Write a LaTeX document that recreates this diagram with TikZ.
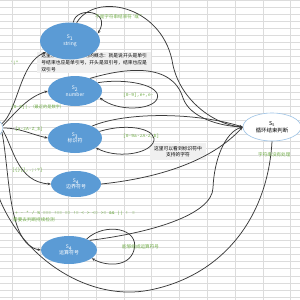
\documentclass[tikz,border=0pt]{standalone}
\usepackage{fontspec}
\setmainfont{Noto Sans CJK SC}
\newfontfamily\monof{Liberation Mono}
\usetikzlibrary{shapes.geometric,arrows.meta}
\definecolor{sblue}{HTML}{5B9BD5}
\definecolor{lblue}{HTML}{9DC3E6}
\definecolor{lgreen}{HTML}{70AD47}
\definecolor{gridc}{HTML}{DCDCDC}
\definecolor{boxgray}{HTML}{F0F0F0}
\definecolor{arc}{HTML}{3A3A3A}
\begin{document}
\begin{tikzpicture}[x=1pt,y=-1pt,
 state/.style={ellipse, fill=sblue, text=white, font=\fontsize{5}{6.5}\selectfont, align=center, inner sep=0pt},
 endstate/.style={ellipse, draw=lblue, line width=0.6pt, fill=white, font=\fontsize{5.4}{6.8}\selectfont, align=center, inner sep=0pt},
 lab/.style={text=lgreen, font=\fontsize{4.6}{5.5}\selectfont, anchor=west, inner sep=0pt},
 codelab/.style={lab, font=\monof\fontsize{4.6}{5.5}\selectfont},
 note/.style={fill=boxgray, font=\fontsize{4.8}{6.6}\selectfont, inner sep=1.5pt},
 conn/.style={draw=arc, line width=0.75pt, -{Stealth[length=3.2pt,width=2.6pt]}},
 gridline/.style={draw=gridc, line width=0.4pt}
]
\useasboundingbox (0,0) rectangle (300,300);
\clip (0,0) rectangle (300,300);
\fill[white] (0,0) rectangle (300,300);
% spreadsheet grid
\foreach \i in {0,...,10} \draw[gridline] ({12.5+27.8*\i},0) -- ({12.5+27.8*\i},300);
\foreach \j in {0,...,42} \draw[gridline] (0,{7.07*\j}) -- (300,{7.07*\j});

% notes
\node[note, anchor=north west, align=left, minimum width=114pt] (n1) at (37,52)
 {这里涉及一个双向引用的概念：就是说开头是单引\\号结束也应是单引号，开头是双引号，结束也应是\\双引号};
\node[note, align=center, minimum width=56pt, minimum height=17pt] (n2) at (178,151.5)
 {这里可以看到标识符中\\支持的字符};

% states
\node[endstate, minimum width=34pt, minimum height=22pt] (s0) at (-14,128) {};
\node[state, minimum width=60pt, minimum height=37pt] (s1) at (70,41) {S\textsubscript{1}\\string};
\node[state, minimum width=54pt, minimum height=30pt] (s2) at (75,91) {S\textsubscript{2}\\number};
\node[state, minimum width=54pt, minimum height=30pt] (s3) at (75,138) {S\textsubscript{3}\\标识符};
\node[state, minimum width=50pt, minimum height=26pt] (s4a) at (76,184) {S\textsubscript{4}\\边界符号};
\node[state, minimum width=56pt, minimum height=28pt] (s4b) at (69,250) {S\textsubscript{4}\\运算符号};
\node[endstate, minimum width=58pt, minimum height=28pt] (s5) at (272,127) {S\textsubscript{5}\\循环结束判断};

% from start
\draw[conn] (s0.15) .. controls (18,110) and (20,62) .. (s1.205);
\draw[conn] (s0.8) .. controls (18,110) and (28,97) .. (s2.west);
\draw[conn] (s0.east) .. controls (20,128) and (30,134) .. (s3.west);
\draw[conn] (s0.-8) .. controls (14,150) and (18,182) .. (s4a.west);
\draw[conn] (s0.-15) .. controls (10,175) and (8,245) .. (s4b.west);

% self loops
\draw[conn] (s1.80) .. controls (76,6) and (112,10) .. (s1.15);
\draw[conn] (s2.20) .. controls (125,78) and (163,85) .. (157,99) .. controls (152,110) and (118,112) .. (s2.-15);
\draw[conn] (s3.15) .. controls (130,122) and (160,130) .. (153,143) .. controls (146,155) and (115,158) .. (s3.-25);
\draw[conn] (s4b.32) .. controls (105,222) and (140,228) .. (134,250) .. controls (129,268) and (105,266) .. (s4b.-20);

% to end state
\draw[conn] (s1.70) .. controls (95,-8) and (160,5) .. (172,60) .. controls (178,100) and (215,125) .. (s5.west);
\draw[conn] (s2.40) .. controls (125,68) and (172,62) .. (183,98) .. controls (190,118) and (220,126) .. (s5.west);
\draw[conn] (s3.35) .. controls (125,112) and (195,112) .. (s5.west);
\draw[conn] (s4a.east) .. controls (140,180) and (205,168) .. (s5.west);
\draw[conn] (s4b.25) .. controls (150,233) and (212,215) .. (213,188) .. controls (214,160) and (225,132) .. (s5.west);

% back to start
\draw[conn] (s5.south) .. controls (268,215) and (225,275) .. (150,290) .. controls (90,302) and (25,260) .. (0,200) .. controls (-4,185) and (-5,160) .. (s0.south);

% labels
\node[lab] (l10) at (95,17) {不是字符串结束符 \textquotesingle 或 "};
\node[codelab] (l1) at (10,63) {\textquotesingle|"};
\node[codelab] (l2) at (11,107) {[0-9]|.{\fontsize{4.2}{5}\rmfamily（最近的是数字）}};
\node[codelab] (l3) at (15,129) {[a-zA-Z\_\$]};
\node[codelab] (l4) at (12,170) {[\{\}[],.;:?]};
\node[codelab] (l5) at (15,213) {+ - * / \% === !== == != < > <= >= \&\& || ! =};
\node[lab] (l6) at (13,220) {需要去判断持续检测};
\node[codelab] (l7) at (123,95) {[0-9],e+,e-};
\node[codelab] (l8) at (123,136) {[0-9a-zA-Z\_\$]};
\node[lab] (l9) at (122,247) {能够组成运算符号};
\node[lab] (l11) at (258,155) {字符串没有处理};
\end{tikzpicture}
\end{document}
